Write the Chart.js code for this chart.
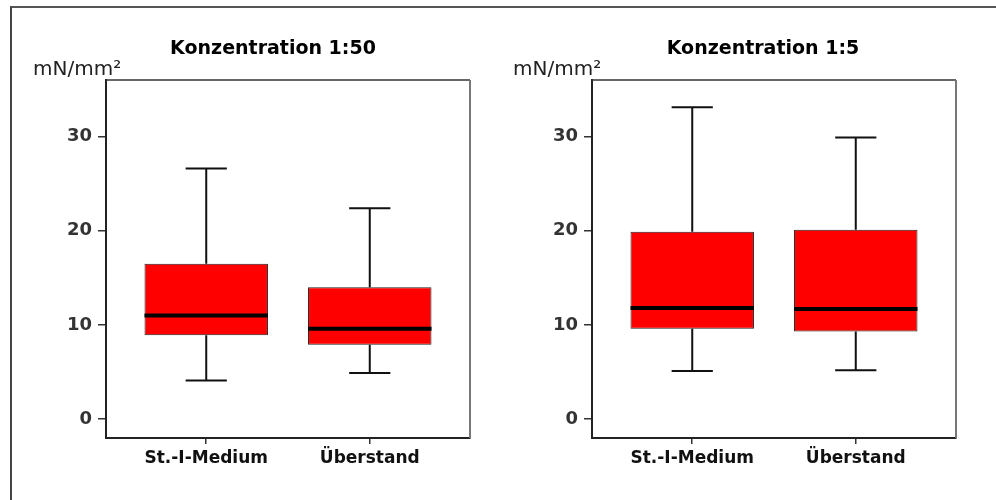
<!DOCTYPE html>
<html>
<head>
<meta charset="utf-8">
<script src="https://cdn.jsdelivr.net/npm/chart.js@4.4.1/dist/chart.umd.min.js"></script>
<style>
  html, body { margin: 0; padding: 0; background: #fff; }
  #page { position: relative; width: 996px; height: 500px; overflow: hidden; background: #fff; }
  #frame { position: absolute; left: 10px; top: 6px; width: 1000px; height: 600px;
           border-top: 2px solid #555; border-left: 2px solid #444; }
  canvas { position: absolute; top: 0; }
  #left { left: 0; }
  #right { left: 486px; }
</style>
</head>
<body>
<div id="page">
  <div id="frame"></div>
  <canvas id="left" width="490" height="500"></canvas>
  <canvas id="right" width="510" height="500"></canvas>
</div>
<script>
const categories = ['St.-I-Medium', 'Überstand'];
const yTicks = [0, 10, 20, 30];

// Konzentration 1:50
const min50 = [4.1, 4.9];
const q1_50 = [8.9, 7.9];
const median50 = [11.0, 9.6];
const q3_50 = [16.5, 14.0];
const max50 = [26.6, 22.4];

// Konzentration 1:5
const min5 = [5.1, 5.2];
const q1_5 = [9.6, 9.3];
const median5 = [11.8, 11.7];
const q3_5 = [19.9, 20.1];
const max5 = [33.1, 29.9];

// whiskers, caps, median line and the top/right frame of the plot
const boxPlugin = {
  id: 'boxWhisker',
  afterDatasetsDraw(chart, args, opts) {
    const { ctx, chartArea } = chart;
    const x = chart.scales.x;
    const y = chart.scales.y;
    const meta = chart.getDatasetMeta(0);
    ctx.save();
    ctx.lineCap = 'butt';
    categories.forEach((c, i) => {
      const xp = x.getPixelForValue(i + 1);
      const capHalf = (x.getPixelForValue(i + 1 + 0.126) - xp);
      ctx.lineWidth = 2;
      ctx.strokeStyle = '#111';
      ctx.beginPath();
      ctx.moveTo(xp, y.getPixelForValue(opts.q3[i]));
      ctx.lineTo(xp, y.getPixelForValue(opts.max[i]));
      ctx.moveTo(xp, y.getPixelForValue(opts.q1[i]));
      ctx.lineTo(xp, y.getPixelForValue(opts.min[i]));
      ctx.moveTo(xp - capHalf, y.getPixelForValue(opts.max[i]));
      ctx.lineTo(xp + capHalf, y.getPixelForValue(opts.max[i]));
      ctx.moveTo(xp - capHalf, y.getPixelForValue(opts.min[i]));
      ctx.lineTo(xp + capHalf, y.getPixelForValue(opts.min[i]));
      ctx.stroke();
      // median
      const bar = meta.data[i];
      ctx.lineWidth = 4;
      ctx.strokeStyle = '#000';
      ctx.beginPath();
      ctx.moveTo(bar.x - bar.width / 2, y.getPixelForValue(opts.median[i]));
      ctx.lineTo(bar.x + bar.width / 2, y.getPixelForValue(opts.median[i]));
      ctx.stroke();
    });
    // top and right frame
    ctx.lineWidth = 1.5;
    ctx.strokeStyle = '#333';
    ctx.beginPath();
    ctx.moveTo(chartArea.left, chartArea.top);
    ctx.lineTo(chartArea.right, chartArea.top);
    ctx.stroke();
    ctx.lineWidth = 2;
    ctx.strokeStyle = '#777';
    ctx.beginPath();
    ctx.moveTo(chartArea.right, chartArea.top);
    ctx.lineTo(chartArea.right, chartArea.bottom);
    ctx.stroke();
    // title and unit
    ctx.fillStyle = '#000';
    ctx.textBaseline = 'middle';
    ctx.textAlign = 'center';
    ctx.font = 'bold 19px "DejaVu Sans"';
    ctx.fillText(opts.title, opts.titleX, 49);
    ctx.textAlign = 'left';
    ctx.fillStyle = '#222';
    ctx.font = '20px "DejaVu Sans"';
    ctx.fillText('mN/mm²', opts.unitX, 70);
    ctx.restore();
  }
};

function makeChart(id, q1, q3, extra, padRight) {
  return new Chart(document.getElementById(id), {
    type: 'bar',
    data: {
      datasets: [{
        data: categories.map((c, i) => ({ x: i + 1, y: [q1[i], q3[i]] })),
        backgroundColor: '#ff0000',
        borderColor: '#222',
        borderWidth: 1,
        borderSkipped: false,
        barPercentage: 0.755,
        categoryPercentage: 1
      }]
    },
    options: {
      responsive: false,
      animation: false,
      layout: { padding: { left: 30, right: padRight, top: 80, bottom: 22 } },
      plugins: {
        legend: { display: false },
        tooltip: { enabled: false },
        boxWhisker: Object.assign({ q1: q1, q3: q3 }, extra)
      },
      scales: {
        x: {
          type: 'linear',
          min: 0.387,
          max: 2.613,
          offset: false,
          afterBuildTicks: (scale) => { scale.ticks = categories.map((c, i) => ({ value: i + 1 })); },
          afterFit: (scale) => { scale.height = 40; },
          ticks: {
            callback: (v) => categories[Math.round(v) - 1],
            font: { family: 'DejaVu Sans', size: 17, weight: 'bold' },
            color: '#111',
            padding: 4,
            maxRotation: 0,
            autoSkip: false
          },
          grid: { offset: false, drawOnChartArea: false, drawTicks: true, tickLength: 6, color: '#333', lineWidth: 1.5 },
          border: { display: true, color: '#222', width: 2 }
        },
        y: {
          min: -2,
          max: 36,
          afterBuildTicks: (scale) => { scale.ticks = yTicks.map(v => ({ value: v })); },
          afterFit: (scale) => { scale.width = 76; },
          ticks: {
            font: { family: 'DejaVu Sans', size: 18, weight: 'bold' },
            color: '#333',
            padding: 6
          },
          grid: { drawOnChartArea: false, drawTicks: true, tickLength: 8, color: '#333', lineWidth: 1.5 },
          border: { display: true, color: '#222', width: 2 }
        }
      }
    },
    plugins: [boxPlugin]
  });
}

makeChart('left', q1_50, q3_50,
  { min: min50, median: median50, max: max50, title: 'Konzentration 1:50', titleX: 273, unitX: 33 }, 20);
makeChart('right', q1_5, q3_5,
  { min: min5, median: median5, max: max5, title: 'Konzentration 1:5', titleX: 277, unitX: 27 }, 40);
</script>
</body>
</html>
